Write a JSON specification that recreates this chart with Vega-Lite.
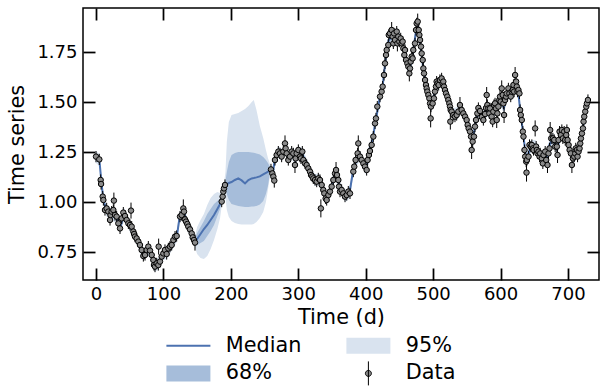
{
  "$schema": "https://vega.github.io/schema/vega-lite/v6.json",
  "autosize": {"type": "none"},
  "width": 516,
  "height": 272,
  "padding": {"left": 83, "top": 8, "right": 1, "bottom": 108},
  "background": "white",
  "config": {
    "font": "DejaVu Sans",
    "view": {"stroke": "black", "strokeWidth": 1.5},
    "axis": {"grid": false, "domain": false, "tickColor": "black", "tickWidth": 1.75, "tickSize": -12, "labelColor": "black", "labelFont": "DejaVu Sans", "labelFontSize": 18, "titleFont": "DejaVu Sans", "titleFontSize": 20.8, "titleFontWeight": "normal", "titleColor": "black"},
    "legend": {
      "orient": "none", "legendX": 95, "legendY": 327, "columns": 2, "columnPadding": 42, "rowPadding": 3,
      "title": null, "padding": 0, "symbolSize": 256, "labelOffset": 27, "symbolOpacity": 1, "symbolStrokeWidth": 1,
      "labelFont": "DejaVu Sans", "labelFontSize": 20.8, "labelColor": "black"
    }
  },
  "datasets": {
    "keys": [{"k": "Median"}, {"k": "68%"}, {"k": "95%"}, {"k": "Data"}],
    "model": [
      {"t": -1, "med": 1.228, "lo68": 1.213, "hi68": 1.243, "lo95": 1.198, "hi95": 1.258},
      {"t": 5, "med": 1.21, "lo68": 1.195, "hi68": 1.225, "lo95": 1.18, "hi95": 1.24},
      {"t": 8, "med": 1.1, "lo68": 1.085, "hi68": 1.115, "lo95": 1.07, "hi95": 1.13},
      {"t": 11, "med": 1.01, "lo68": 0.995, "hi68": 1.025, "lo95": 0.98, "hi95": 1.04},
      {"t": 15, "med": 0.96, "lo68": 0.945, "hi68": 0.975, "lo95": 0.93, "hi95": 0.99},
      {"t": 22, "med": 0.94, "lo68": 0.925, "hi68": 0.955, "lo95": 0.91, "hi95": 0.97},
      {"t": 30, "med": 0.925, "lo68": 0.91, "hi68": 0.94, "lo95": 0.895, "hi95": 0.955},
      {"t": 36, "med": 0.875, "lo68": 0.86, "hi68": 0.89, "lo95": 0.845, "hi95": 0.905},
      {"t": 42, "med": 0.94, "lo68": 0.925, "hi68": 0.955, "lo95": 0.91, "hi95": 0.97},
      {"t": 48, "med": 0.895, "lo68": 0.88, "hi68": 0.91, "lo95": 0.865, "hi95": 0.925},
      {"t": 55, "med": 0.85, "lo68": 0.835, "hi68": 0.865, "lo95": 0.82, "hi95": 0.88},
      {"t": 62, "med": 0.805, "lo68": 0.79, "hi68": 0.82, "lo95": 0.775, "hi95": 0.835},
      {"t": 70, "med": 0.735, "lo68": 0.72, "hi68": 0.75, "lo95": 0.705, "hi95": 0.765},
      {"t": 76, "med": 0.76, "lo68": 0.745, "hi68": 0.775, "lo95": 0.73, "hi95": 0.79},
      {"t": 80, "med": 0.755, "lo68": 0.74, "hi68": 0.77, "lo95": 0.725, "hi95": 0.785},
      {"t": 87, "med": 0.68, "lo68": 0.665, "hi68": 0.695, "lo95": 0.65, "hi95": 0.71},
      {"t": 92, "med": 0.69, "lo68": 0.675, "hi68": 0.705, "lo95": 0.66, "hi95": 0.72},
      {"t": 100, "med": 0.74, "lo68": 0.725, "hi68": 0.755, "lo95": 0.71, "hi95": 0.77},
      {"t": 105, "med": 0.745, "lo68": 0.73, "hi68": 0.76, "lo95": 0.715, "hi95": 0.775},
      {"t": 112, "med": 0.785, "lo68": 0.77, "hi68": 0.8, "lo95": 0.755, "hi95": 0.815},
      {"t": 120, "med": 0.83, "lo68": 0.815, "hi68": 0.845, "lo95": 0.8, "hi95": 0.86},
      {"t": 124, "med": 0.925, "lo68": 0.91, "hi68": 0.94, "lo95": 0.895, "hi95": 0.955},
      {"t": 130, "med": 0.95, "lo68": 0.935, "hi68": 0.965, "lo95": 0.92, "hi95": 0.98},
      {"t": 137, "med": 0.875, "lo68": 0.86, "hi68": 0.89, "lo95": 0.845, "hi95": 0.905},
      {"t": 146, "med": 0.8, "lo68": 0.79, "hi68": 0.81, "lo95": 0.78, "hi95": 0.82},
      {"t": 150, "med": 0.815, "lo68": 0.785, "hi68": 0.845, "lo95": 0.74, "hi95": 0.875},
      {"t": 155, "med": 0.84, "lo68": 0.795, "hi68": 0.875, "lo95": 0.72, "hi95": 0.91},
      {"t": 160, "med": 0.865, "lo68": 0.805, "hi68": 0.905, "lo95": 0.715, "hi95": 0.94},
      {"t": 165, "med": 0.885, "lo68": 0.83, "hi68": 0.94, "lo95": 0.73, "hi95": 0.985},
      {"t": 170, "med": 0.91, "lo68": 0.855, "hi68": 0.965, "lo95": 0.765, "hi95": 1.02},
      {"t": 175, "med": 0.935, "lo68": 0.885, "hi68": 0.99, "lo95": 0.81, "hi95": 1.04},
      {"t": 180, "med": 0.965, "lo68": 0.93, "hi68": 1.005, "lo95": 0.865, "hi95": 1.05},
      {"t": 184, "med": 0.99, "lo68": 0.965, "hi68": 1.015, "lo95": 0.92, "hi95": 1.045},
      {"t": 187, "med": 1.025, "lo68": 1.01, "hi68": 1.04, "lo95": 0.995, "hi95": 1.055},
      {"t": 190, "med": 1.07, "lo68": 1.055, "hi68": 1.085, "lo95": 1.04, "hi95": 1.1},
      {"t": 192, "med": 1.085, "lo68": 1.065, "hi68": 1.105, "lo95": 1.02, "hi95": 1.15},
      {"t": 194, "med": 1.09, "lo68": 1.04, "hi68": 1.15, "lo95": 0.96, "hi95": 1.3},
      {"t": 197, "med": 1.095, "lo68": 1.01, "hi68": 1.2, "lo95": 0.925, "hi95": 1.4},
      {"t": 201, "med": 1.1, "lo68": 0.99, "hi68": 1.235, "lo95": 0.905, "hi95": 1.435},
      {"t": 206, "med": 1.11, "lo68": 0.985, "hi68": 1.245, "lo95": 0.895, "hi95": 1.44},
      {"t": 211, "med": 1.118, "lo68": 0.98, "hi68": 1.25, "lo95": 0.89, "hi95": 1.445},
      {"t": 216, "med": 1.108, "lo68": 0.978, "hi68": 1.25, "lo95": 0.888, "hi95": 1.455},
      {"t": 221, "med": 1.093, "lo68": 0.975, "hi68": 1.25, "lo95": 0.887, "hi95": 1.465},
      {"t": 226, "med": 1.11, "lo68": 0.975, "hi68": 1.25, "lo95": 0.887, "hi95": 1.48},
      {"t": 231, "med": 1.118, "lo68": 0.977, "hi68": 1.248, "lo95": 0.888, "hi95": 1.5},
      {"t": 234, "med": 1.12, "lo68": 0.978, "hi68": 1.246, "lo95": 0.89, "hi95": 1.51},
      {"t": 238, "med": 1.123, "lo68": 0.98, "hi68": 1.243, "lo95": 0.9, "hi95": 1.46},
      {"t": 243, "med": 1.128, "lo68": 0.988, "hi68": 1.238, "lo95": 0.92, "hi95": 1.38},
      {"t": 248, "med": 1.138, "lo68": 1.005, "hi68": 1.225, "lo95": 0.95, "hi95": 1.32},
      {"t": 252, "med": 1.145, "lo68": 1.04, "hi68": 1.21, "lo95": 1.0, "hi95": 1.26},
      {"t": 255, "med": 1.152, "lo68": 1.08, "hi68": 1.195, "lo95": 1.06, "hi95": 1.22},
      {"t": 258, "med": 1.16, "lo68": 1.145, "hi68": 1.175, "lo95": 1.13, "hi95": 1.19},
      {"t": 262, "med": 1.135, "lo68": 1.12, "hi68": 1.15, "lo95": 1.105, "hi95": 1.165},
      {"t": 265, "med": 1.21, "lo68": 1.195, "hi68": 1.225, "lo95": 1.18, "hi95": 1.24},
      {"t": 270, "med": 1.25, "lo68": 1.235, "hi68": 1.265, "lo95": 1.22, "hi95": 1.28},
      {"t": 276, "med": 1.235, "lo68": 1.22, "hi68": 1.25, "lo95": 1.205, "hi95": 1.265},
      {"t": 281, "med": 1.265, "lo68": 1.25, "hi68": 1.28, "lo95": 1.235, "hi95": 1.295},
      {"t": 285, "med": 1.215, "lo68": 1.2, "hi68": 1.23, "lo95": 1.185, "hi95": 1.245},
      {"t": 290, "med": 1.245, "lo68": 1.23, "hi68": 1.26, "lo95": 1.215, "hi95": 1.275},
      {"t": 296, "med": 1.21, "lo68": 1.195, "hi68": 1.225, "lo95": 1.18, "hi95": 1.24},
      {"t": 300, "med": 1.25, "lo68": 1.235, "hi68": 1.265, "lo95": 1.22, "hi95": 1.28},
      {"t": 306, "med": 1.24, "lo68": 1.225, "hi68": 1.255, "lo95": 1.21, "hi95": 1.27},
      {"t": 312, "med": 1.19, "lo68": 1.175, "hi68": 1.205, "lo95": 1.16, "hi95": 1.22},
      {"t": 318, "med": 1.145, "lo68": 1.13, "hi68": 1.16, "lo95": 1.115, "hi95": 1.175},
      {"t": 325, "med": 1.11, "lo68": 1.095, "hi68": 1.125, "lo95": 1.08, "hi95": 1.14},
      {"t": 331, "med": 1.112, "lo68": 1.097, "hi68": 1.127, "lo95": 1.082, "hi95": 1.142},
      {"t": 337, "med": 1.06, "lo68": 1.045, "hi68": 1.075, "lo95": 1.03, "hi95": 1.09},
      {"t": 342, "med": 1.015, "lo68": 1.0, "hi68": 1.03, "lo95": 0.985, "hi95": 1.045},
      {"t": 347, "med": 1.05, "lo68": 1.035, "hi68": 1.065, "lo95": 1.02, "hi95": 1.08},
      {"t": 352, "med": 1.11, "lo68": 1.095, "hi68": 1.125, "lo95": 1.08, "hi95": 1.14},
      {"t": 356, "med": 1.155, "lo68": 1.14, "hi68": 1.17, "lo95": 1.125, "hi95": 1.185},
      {"t": 360, "med": 1.09, "lo68": 1.075, "hi68": 1.105, "lo95": 1.06, "hi95": 1.12},
      {"t": 365, "med": 1.05, "lo68": 1.035, "hi68": 1.065, "lo95": 1.02, "hi95": 1.08},
      {"t": 370, "med": 1.03, "lo68": 1.015, "hi68": 1.045, "lo95": 1.0, "hi95": 1.06},
      {"t": 376, "med": 1.045, "lo68": 1.03, "hi68": 1.06, "lo95": 1.015, "hi95": 1.075},
      {"t": 381, "med": 1.15, "lo68": 1.135, "hi68": 1.165, "lo95": 1.12, "hi95": 1.18},
      {"t": 386, "med": 1.21, "lo68": 1.195, "hi68": 1.225, "lo95": 1.18, "hi95": 1.24},
      {"t": 391, "med": 1.23, "lo68": 1.215, "hi68": 1.245, "lo95": 1.2, "hi95": 1.26},
      {"t": 397, "med": 1.19, "lo68": 1.175, "hi68": 1.205, "lo95": 1.16, "hi95": 1.22},
      {"t": 401, "med": 1.16, "lo68": 1.145, "hi68": 1.175, "lo95": 1.13, "hi95": 1.19},
      {"t": 405, "med": 1.26, "lo68": 1.245, "hi68": 1.275, "lo95": 1.23, "hi95": 1.29},
      {"t": 410, "med": 1.31, "lo68": 1.295, "hi68": 1.325, "lo95": 1.28, "hi95": 1.34},
      {"t": 415, "med": 1.41, "lo68": 1.395, "hi68": 1.425, "lo95": 1.38, "hi95": 1.44},
      {"t": 420, "med": 1.505, "lo68": 1.49, "hi68": 1.52, "lo95": 1.475, "hi95": 1.535},
      {"t": 425, "med": 1.575, "lo68": 1.56, "hi68": 1.59, "lo95": 1.545, "hi95": 1.605},
      {"t": 430, "med": 1.73, "lo68": 1.715, "hi68": 1.745, "lo95": 1.7, "hi95": 1.76},
      {"t": 434, "med": 1.81, "lo68": 1.795, "hi68": 1.825, "lo95": 1.78, "hi95": 1.84},
      {"t": 440, "med": 1.83, "lo68": 1.815, "hi68": 1.845, "lo95": 1.8, "hi95": 1.86},
      {"t": 446, "med": 1.84, "lo68": 1.825, "hi68": 1.855, "lo95": 1.81, "hi95": 1.87},
      {"t": 452, "med": 1.81, "lo68": 1.795, "hi68": 1.825, "lo95": 1.78, "hi95": 1.84},
      {"t": 458, "med": 1.75, "lo68": 1.735, "hi68": 1.765, "lo95": 1.72, "hi95": 1.78},
      {"t": 464, "med": 1.655, "lo68": 1.64, "hi68": 1.67, "lo95": 1.625, "hi95": 1.685},
      {"t": 469, "med": 1.72, "lo68": 1.705, "hi68": 1.735, "lo95": 1.69, "hi95": 1.75},
      {"t": 474, "med": 1.84, "lo68": 1.825, "hi68": 1.855, "lo95": 1.81, "hi95": 1.87},
      {"t": 477, "med": 1.895, "lo68": 1.88, "hi68": 1.91, "lo95": 1.865, "hi95": 1.925},
      {"t": 481, "med": 1.79, "lo68": 1.775, "hi68": 1.805, "lo95": 1.76, "hi95": 1.82},
      {"t": 486, "med": 1.65, "lo68": 1.635, "hi68": 1.665, "lo95": 1.62, "hi95": 1.68},
      {"t": 492, "med": 1.545, "lo68": 1.53, "hi68": 1.56, "lo95": 1.515, "hi95": 1.575},
      {"t": 497, "med": 1.48, "lo68": 1.465, "hi68": 1.495, "lo95": 1.45, "hi95": 1.51},
      {"t": 502, "med": 1.54, "lo68": 1.525, "hi68": 1.555, "lo95": 1.51, "hi95": 1.57},
      {"t": 507, "med": 1.59, "lo68": 1.575, "hi68": 1.605, "lo95": 1.56, "hi95": 1.62},
      {"t": 513, "med": 1.61, "lo68": 1.595, "hi68": 1.625, "lo95": 1.58, "hi95": 1.64},
      {"t": 518, "med": 1.555, "lo68": 1.54, "hi68": 1.57, "lo95": 1.525, "hi95": 1.585},
      {"t": 524, "med": 1.49, "lo68": 1.475, "hi68": 1.505, "lo95": 1.46, "hi95": 1.52},
      {"t": 530, "med": 1.44, "lo68": 1.425, "hi68": 1.455, "lo95": 1.41, "hi95": 1.47},
      {"t": 536, "med": 1.445, "lo68": 1.43, "hi68": 1.46, "lo95": 1.415, "hi95": 1.475},
      {"t": 541, "med": 1.47, "lo68": 1.455, "hi68": 1.485, "lo95": 1.44, "hi95": 1.5},
      {"t": 548, "med": 1.42, "lo68": 1.405, "hi68": 1.435, "lo95": 1.39, "hi95": 1.45},
      {"t": 554, "med": 1.355, "lo68": 1.34, "hi68": 1.37, "lo95": 1.325, "hi95": 1.385},
      {"t": 559, "med": 1.3, "lo68": 1.285, "hi68": 1.315, "lo95": 1.27, "hi95": 1.33},
      {"t": 563, "med": 1.41, "lo68": 1.395, "hi68": 1.425, "lo95": 1.38, "hi95": 1.44},
      {"t": 568, "med": 1.45, "lo68": 1.435, "hi68": 1.465, "lo95": 1.42, "hi95": 1.48},
      {"t": 573, "med": 1.42, "lo68": 1.405, "hi68": 1.435, "lo95": 1.39, "hi95": 1.45},
      {"t": 578, "med": 1.45, "lo68": 1.435, "hi68": 1.465, "lo95": 1.42, "hi95": 1.48},
      {"t": 583, "med": 1.46, "lo68": 1.445, "hi68": 1.475, "lo95": 1.43, "hi95": 1.49},
      {"t": 588, "med": 1.42, "lo68": 1.405, "hi68": 1.435, "lo95": 1.39, "hi95": 1.45},
      {"t": 593, "med": 1.48, "lo68": 1.465, "hi68": 1.495, "lo95": 1.45, "hi95": 1.51},
      {"t": 599, "med": 1.52, "lo68": 1.505, "hi68": 1.535, "lo95": 1.49, "hi95": 1.55},
      {"t": 605, "med": 1.47, "lo68": 1.455, "hi68": 1.485, "lo95": 1.44, "hi95": 1.5},
      {"t": 610, "med": 1.545, "lo68": 1.53, "hi68": 1.56, "lo95": 1.515, "hi95": 1.575},
      {"t": 616, "med": 1.54, "lo68": 1.525, "hi68": 1.555, "lo95": 1.51, "hi95": 1.57},
      {"t": 621, "med": 1.6, "lo68": 1.585, "hi68": 1.615, "lo95": 1.57, "hi95": 1.63},
      {"t": 626, "med": 1.56, "lo68": 1.545, "hi68": 1.575, "lo95": 1.53, "hi95": 1.59},
      {"t": 629, "med": 1.46, "lo68": 1.445, "hi68": 1.475, "lo95": 1.43, "hi95": 1.49},
      {"t": 634, "med": 1.33, "lo68": 1.315, "hi68": 1.345, "lo95": 1.3, "hi95": 1.36},
      {"t": 638, "med": 1.21, "lo68": 1.195, "hi68": 1.225, "lo95": 1.18, "hi95": 1.24},
      {"t": 642, "med": 1.25, "lo68": 1.235, "hi68": 1.265, "lo95": 1.22, "hi95": 1.28},
      {"t": 646, "med": 1.28, "lo68": 1.265, "hi68": 1.295, "lo95": 1.25, "hi95": 1.31},
      {"t": 652, "med": 1.28, "lo68": 1.265, "hi68": 1.295, "lo95": 1.25, "hi95": 1.31},
      {"t": 658, "med": 1.235, "lo68": 1.22, "hi68": 1.25, "lo95": 1.205, "hi95": 1.265},
      {"t": 663, "med": 1.215, "lo68": 1.2, "hi68": 1.23, "lo95": 1.185, "hi95": 1.245},
      {"t": 668, "med": 1.22, "lo68": 1.205, "hi68": 1.235, "lo95": 1.19, "hi95": 1.25},
      {"t": 673, "med": 1.29, "lo68": 1.275, "hi68": 1.305, "lo95": 1.26, "hi95": 1.32},
      {"t": 678, "med": 1.315, "lo68": 1.3, "hi68": 1.33, "lo95": 1.285, "hi95": 1.345},
      {"t": 684, "med": 1.265, "lo68": 1.25, "hi68": 1.28, "lo95": 1.235, "hi95": 1.295},
      {"t": 689, "med": 1.34, "lo68": 1.325, "hi68": 1.355, "lo95": 1.31, "hi95": 1.37},
      {"t": 694, "med": 1.34, "lo68": 1.325, "hi68": 1.355, "lo95": 1.31, "hi95": 1.37},
      {"t": 699, "med": 1.34, "lo68": 1.325, "hi68": 1.355, "lo95": 1.31, "hi95": 1.37},
      {"t": 703, "med": 1.25, "lo68": 1.235, "hi68": 1.265, "lo95": 1.22, "hi95": 1.28},
      {"t": 708, "med": 1.22, "lo68": 1.205, "hi68": 1.235, "lo95": 1.19, "hi95": 1.25},
      {"t": 713, "med": 1.25, "lo68": 1.235, "hi68": 1.265, "lo95": 1.22, "hi95": 1.28},
      {"t": 718, "med": 1.29, "lo68": 1.275, "hi68": 1.305, "lo95": 1.26, "hi95": 1.32},
      {"t": 722, "med": 1.37, "lo68": 1.355, "hi68": 1.385, "lo95": 1.34, "hi95": 1.4},
      {"t": 726, "med": 1.46, "lo68": 1.445, "hi68": 1.475, "lo95": 1.43, "hi95": 1.49},
      {"t": 730, "med": 1.51, "lo68": 1.495, "hi68": 1.525, "lo95": 1.48, "hi95": 1.54}
    ],
    "obs": [
      {"t": 0, "y": 1.227, "e": 0.028}, {"t": 4.9, "y": 1.213, "e": 0.028}, {"t": 6.9, "y": 1.11, "e": 0.028}, {"t": 7.5, "y": 1.09, "e": 0.028},
      {"t": 9.9, "y": 1.027, "e": 0.028}, {"t": 10.9, "y": 1.01, "e": 0.028}, {"t": 13.3, "y": 0.96, "e": 0.028}, {"t": 15.8, "y": 0.968, "e": 0.028},
      {"t": 18.3, "y": 0.952, "e": 0.028}, {"t": 20.8, "y": 0.91, "e": 0.028}, {"t": 21.5, "y": 0.935, "e": 0.028}, {"t": 23.2, "y": 0.952, "e": 0.028},
      {"t": 25.7, "y": 0.96, "e": 0.028}, {"t": 26.5, "y": 1.007, "e": 0.04}, {"t": 28.2, "y": 0.935, "e": 0.028}, {"t": 30.6, "y": 0.927, "e": 0.028},
      {"t": 33.1, "y": 0.893, "e": 0.028}, {"t": 35.6, "y": 0.868, "e": 0.028}, {"t": 38.1, "y": 0.918, "e": 0.028}, {"t": 40.5, "y": 0.947, "e": 0.028},
      {"t": 43, "y": 0.93, "e": 0.028}, {"t": 45.5, "y": 0.91, "e": 0.028}, {"t": 48, "y": 0.893, "e": 0.028}, {"t": 50.4, "y": 0.885, "e": 0.028},
      {"t": 51.9, "y": 0.957, "e": 0.04}, {"t": 52.9, "y": 0.877, "e": 0.028}, {"t": 55.4, "y": 0.852, "e": 0.028}, {"t": 56.5, "y": 0.84, "e": 0.028},
      {"t": 57.8, "y": 0.827, "e": 0.028}, {"t": 60.3, "y": 0.818, "e": 0.028}, {"t": 62.8, "y": 0.802, "e": 0.028}, {"t": 65.2, "y": 0.785, "e": 0.028},
      {"t": 67.7, "y": 0.76, "e": 0.028}, {"t": 70.2, "y": 0.73, "e": 0.028}, {"t": 72.7, "y": 0.735, "e": 0.028}, {"t": 75.1, "y": 0.76, "e": 0.028},
      {"t": 77.6, "y": 0.777, "e": 0.028}, {"t": 80.1, "y": 0.757, "e": 0.028}, {"t": 82.6, "y": 0.735, "e": 0.028}, {"t": 85, "y": 0.71, "e": 0.028},
      {"t": 86, "y": 0.685, "e": 0.028}, {"t": 87.5, "y": 0.677, "e": 0.028}, {"t": 90, "y": 0.693, "e": 0.028}, {"t": 92.4, "y": 0.685, "e": 0.028},
      {"t": 92.9, "y": 0.777, "e": 0.04}, {"t": 94.9, "y": 0.702, "e": 0.028}, {"t": 97.4, "y": 0.727, "e": 0.028}, {"t": 99.9, "y": 0.743, "e": 0.028},
      {"t": 102.3, "y": 0.76, "e": 0.028}, {"t": 104.8, "y": 0.74, "e": 0.028}, {"t": 107.3, "y": 0.768, "e": 0.028}, {"t": 109.7, "y": 0.777, "e": 0.028},
      {"t": 112.2, "y": 0.785, "e": 0.028}, {"t": 114.7, "y": 0.81, "e": 0.028}, {"t": 117.2, "y": 0.827, "e": 0.028}, {"t": 119.6, "y": 0.83, "e": 0.028},
      {"t": 124.6, "y": 0.927, "e": 0.028}, {"t": 127, "y": 0.935, "e": 0.028}, {"t": 129.5, "y": 0.968, "e": 0.045}, {"t": 130.5, "y": 0.952, "e": 0.028},
      {"t": 132, "y": 0.913, "e": 0.028}, {"t": 133.5, "y": 0.902, "e": 0.028}, {"t": 135.4, "y": 0.89, "e": 0.028}, {"t": 136.9, "y": 0.877, "e": 0.028},
      {"t": 139.4, "y": 0.863, "e": 0.028}, {"t": 141.9, "y": 0.843, "e": 0.028}, {"t": 143.4, "y": 0.823, "e": 0.028}, {"t": 145.3, "y": 0.81, "e": 0.028},
      {"t": 146.8, "y": 0.797, "e": 0.04},
      {"t": 186.4, "y": 1.002, "e": 0.028}, {"t": 187.8, "y": 1.027, "e": 0.028}, {"t": 188.8, "y": 1.052, "e": 0.028}, {"t": 189.8, "y": 1.068, "e": 0.028},
      {"t": 191.3, "y": 1.085, "e": 0.028},
      {"t": 259.5, "y": 1.163, "e": 0.028}, {"t": 261.5, "y": 1.143, "e": 0.028}, {"t": 263, "y": 1.127, "e": 0.028}, {"t": 264.4, "y": 1.107, "e": 0.035},
      {"t": 265.4, "y": 1.21, "e": 0.028}, {"t": 267.9, "y": 1.235, "e": 0.028}, {"t": 270.4, "y": 1.252, "e": 0.028}, {"t": 272.9, "y": 1.243, "e": 0.028},
      {"t": 275.3, "y": 1.227, "e": 0.028}, {"t": 277.8, "y": 1.252, "e": 0.028}, {"t": 280.3, "y": 1.293, "e": 0.04}, {"t": 281.3, "y": 1.268, "e": 0.028},
      {"t": 282.8, "y": 1.243, "e": 0.028}, {"t": 285.2, "y": 1.21, "e": 0.028}, {"t": 287.7, "y": 1.227, "e": 0.028}, {"t": 290.2, "y": 1.252, "e": 0.028},
      {"t": 292.7, "y": 1.243, "e": 0.028}, {"t": 295.1, "y": 1.185, "e": 0.04}, {"t": 296.1, "y": 1.218, "e": 0.028}, {"t": 297.6, "y": 1.243, "e": 0.028},
      {"t": 300.1, "y": 1.26, "e": 0.028}, {"t": 302.5, "y": 1.227, "e": 0.028}, {"t": 304, "y": 1.218, "e": 0.028}, {"t": 306, "y": 1.252, "e": 0.028},
      {"t": 307.5, "y": 1.21, "e": 0.028}, {"t": 310, "y": 1.193, "e": 0.028}, {"t": 312.4, "y": 1.185, "e": 0.028}, {"t": 314.9, "y": 1.168, "e": 0.028},
      {"t": 317.4, "y": 1.152, "e": 0.028}, {"t": 318.9, "y": 1.135, "e": 0.028}, {"t": 320.8, "y": 1.127, "e": 0.028}, {"t": 322.3, "y": 1.118, "e": 0.028},
      {"t": 324.8, "y": 1.11, "e": 0.028}, {"t": 327.3, "y": 1.102, "e": 0.028}, {"t": 329.7, "y": 1.118, "e": 0.028}, {"t": 332.2, "y": 1.11, "e": 0.028},
      {"t": 333.5, "y": 0.968, "e": 0.045}, {"t": 334.7, "y": 1.085, "e": 0.028}, {"t": 337.1, "y": 1.06, "e": 0.028}, {"t": 338.6, "y": 1.043, "e": 0.028},
      {"t": 340.6, "y": 1.018, "e": 0.028}, {"t": 342.1, "y": 1.01, "e": 0.028}, {"t": 344.6, "y": 1.035, "e": 0.028}, {"t": 347, "y": 1.052, "e": 0.028},
      {"t": 349.5, "y": 1.077, "e": 0.028}, {"t": 352, "y": 1.11, "e": 0.028}, {"t": 354.5, "y": 1.143, "e": 0.028}, {"t": 356, "y": 1.16, "e": 0.04},
      {"t": 357.4, "y": 1.135, "e": 0.028}, {"t": 359.4, "y": 1.11, "e": 0.028}, {"t": 360.4, "y": 1.077, "e": 0.028}, {"t": 361.9, "y": 1.052, "e": 0.028},
      {"t": 364.3, "y": 1.06, "e": 0.028}, {"t": 366.8, "y": 1.043, "e": 0.028}, {"t": 369.3, "y": 1.027, "e": 0.028}, {"t": 371.8, "y": 1.035, "e": 0.028},
      {"t": 374.2, "y": 1.052, "e": 0.028}, {"t": 376.7, "y": 1.043, "e": 0.028}, {"t": 381.6, "y": 1.152, "e": 0.028}, {"t": 383, "y": 1.177, "e": 0.028},
      {"t": 385, "y": 1.21, "e": 0.028}, {"t": 388, "y": 1.243, "e": 0.028}, {"t": 389, "y": 1.293, "e": 0.04}, {"t": 391.5, "y": 1.227, "e": 0.028},
      {"t": 394, "y": 1.21, "e": 0.028}, {"t": 396.5, "y": 1.193, "e": 0.028}, {"t": 398.9, "y": 1.177, "e": 0.028}, {"t": 401.4, "y": 1.16, "e": 0.028},
      {"t": 402.8, "y": 1.21, "e": 0.028}, {"t": 404.8, "y": 1.235, "e": 0.028},
      {"t": 406.3, "y": 1.255, "e": 0.028}, {"t": 408.8, "y": 1.285, "e": 0.028}, {"t": 411.3, "y": 1.327, "e": 0.028}, {"t": 413.8, "y": 1.393, "e": 0.028},
      {"t": 415.2, "y": 1.418, "e": 0.028}, {"t": 417.2, "y": 1.477, "e": 0.028}, {"t": 421.2, "y": 1.527, "e": 0.028}, {"t": 423.6, "y": 1.552, "e": 0.028},
      {"t": 425.1, "y": 1.577, "e": 0.028}, {"t": 427.1, "y": 1.635, "e": 0.028}, {"t": 428.6, "y": 1.693, "e": 0.028}, {"t": 430.1, "y": 1.735, "e": 0.028},
      {"t": 431.1, "y": 1.76, "e": 0.028}, {"t": 433.5, "y": 1.785, "e": 0.028}, {"t": 434.2, "y": 1.835, "e": 0.028}, {"t": 436, "y": 1.843, "e": 0.028},
      {"t": 438.5, "y": 1.86, "e": 0.04}, {"t": 440, "y": 1.827, "e": 0.028}, {"t": 441, "y": 1.793, "e": 0.028}, {"t": 442, "y": 1.843, "e": 0.028},
      {"t": 443.4, "y": 1.81, "e": 0.028}, {"t": 446, "y": 1.852, "e": 0.028}, {"t": 447, "y": 1.793, "e": 0.04}, {"t": 448.4, "y": 1.827, "e": 0.028},
      {"t": 449.9, "y": 1.802, "e": 0.028}, {"t": 451.9, "y": 1.818, "e": 0.028}, {"t": 453.3, "y": 1.793, "e": 0.028}, {"t": 454.8, "y": 1.802, "e": 0.028},
      {"t": 455.8, "y": 1.768, "e": 0.028}, {"t": 457.3, "y": 1.735, "e": 0.028}, {"t": 458.3, "y": 1.76, "e": 0.028}, {"t": 459.8, "y": 1.71, "e": 0.028},
      {"t": 461.8, "y": 1.693, "e": 0.028}, {"t": 463.2, "y": 1.677, "e": 0.028}, {"t": 464.7, "y": 1.643, "e": 0.04}, {"t": 465.7, "y": 1.668, "e": 0.028},
      {"t": 466.7, "y": 1.702, "e": 0.028}, {"t": 468.2, "y": 1.727, "e": 0.028}, {"t": 469.6, "y": 1.718, "e": 0.028}, {"t": 470.6, "y": 1.76, "e": 0.028},
      {"t": 473.1, "y": 1.793, "e": 0.028}, {"t": 474.6, "y": 1.86, "e": 0.028}, {"t": 475.6, "y": 1.893, "e": 0.028}, {"t": 477.1, "y": 1.902, "e": 0.04},
      {"t": 478.6, "y": 1.86, "e": 0.028}, {"t": 479.6, "y": 1.835, "e": 0.028}, {"t": 480.6, "y": 1.81, "e": 0.028}, {"t": 482, "y": 1.777, "e": 0.028},
      {"t": 483, "y": 1.743, "e": 0.028}, {"t": 484.5, "y": 1.71, "e": 0.028}, {"t": 485.5, "y": 1.668, "e": 0.028}, {"t": 486.5, "y": 1.643, "e": 0.028},
      {"t": 488, "y": 1.61, "e": 0.028}, {"t": 489.4, "y": 1.585, "e": 0.028}, {"t": 490.4, "y": 1.568, "e": 0.028}, {"t": 491.4, "y": 1.552, "e": 0.028},
      {"t": 492.9, "y": 1.535, "e": 0.028}, {"t": 494.4, "y": 1.518, "e": 0.028}, {"t": 495.4, "y": 1.493, "e": 0.028}, {"t": 496.3, "y": 1.418, "e": 0.045},
      {"t": 496.8, "y": 1.477, "e": 0.028}, {"t": 499.3, "y": 1.493, "e": 0.028}, {"t": 501.2, "y": 1.518, "e": 0.028}, {"t": 502.7, "y": 1.552, "e": 0.028},
      {"t": 504.2, "y": 1.577, "e": 0.028}, {"t": 505.2, "y": 1.602, "e": 0.028}, {"t": 506.7, "y": 1.593, "e": 0.028}, {"t": 508.2, "y": 1.585, "e": 0.028},
      {"t": 510.1, "y": 1.61, "e": 0.028}, {"t": 512.6, "y": 1.618, "e": 0.028}, {"t": 514.1, "y": 1.593, "e": 0.028}, {"t": 515.1, "y": 1.602, "e": 0.028},
      {"t": 516.1, "y": 1.577, "e": 0.028}, {"t": 517.6, "y": 1.56, "e": 0.028}, {"t": 519.1, "y": 1.543, "e": 0.028}, {"t": 521, "y": 1.527, "e": 0.028},
      {"t": 522.5, "y": 1.51, "e": 0.028}, {"t": 524, "y": 1.493, "e": 0.028}, {"t": 525, "y": 1.477, "e": 0.028}, {"t": 525.5, "y": 1.402, "e": 0.04},
      {"t": 526, "y": 1.46, "e": 0.028}, {"t": 527.5, "y": 1.452, "e": 0.028}, {"t": 529.9, "y": 1.435, "e": 0.028}, {"t": 532.4, "y": 1.427, "e": 0.028},
      {"t": 534.9, "y": 1.435, "e": 0.028}, {"t": 537.4, "y": 1.452, "e": 0.028}, {"t": 539.8, "y": 1.485, "e": 0.04}, {"t": 542.3, "y": 1.46, "e": 0.028},
      {"t": 544.8, "y": 1.443, "e": 0.028}, {"t": 547.3, "y": 1.427, "e": 0.028}, {"t": 549.7, "y": 1.41, "e": 0.028}, {"t": 551.2, "y": 1.385, "e": 0.028},
      {"t": 552.7, "y": 1.368, "e": 0.028}, {"t": 554.7, "y": 1.352, "e": 0.028}, {"t": 556.2, "y": 1.327, "e": 0.028}, {"t": 557.1, "y": 1.26, "e": 0.045},
      {"t": 558.6, "y": 1.302, "e": 0.028}, {"t": 560.6, "y": 1.327, "e": 0.028}, {"t": 562.1, "y": 1.377, "e": 0.028}, {"t": 563.6, "y": 1.41, "e": 0.028},
      {"t": 565.6, "y": 1.443, "e": 0.028}, {"t": 567.1, "y": 1.47, "e": 0.028}, {"t": 569.6, "y": 1.455, "e": 0.028}, {"t": 572.1, "y": 1.425, "e": 0.028},
      {"t": 574.5, "y": 1.41, "e": 0.028}, {"t": 577, "y": 1.44, "e": 0.028}, {"t": 578.4, "y": 1.47, "e": 0.028}, {"t": 579.4, "y": 1.535, "e": 0.04},
      {"t": 580.4, "y": 1.485, "e": 0.028}, {"t": 581.9, "y": 1.468, "e": 0.028},
      {"t": 583.4, "y": 1.443, "e": 0.028}, {"t": 584.4, "y": 1.468, "e": 0.028}, {"t": 586.8, "y": 1.427, "e": 0.028}, {"t": 588.3, "y": 1.402, "e": 0.028},
      {"t": 589.3, "y": 1.452, "e": 0.028}, {"t": 590.3, "y": 1.485, "e": 0.028}, {"t": 591.8, "y": 1.493, "e": 0.028}, {"t": 593.3, "y": 1.468, "e": 0.028},
      {"t": 594.3, "y": 1.41, "e": 0.04}, {"t": 595.3, "y": 1.443, "e": 0.028}, {"t": 596.8, "y": 1.477, "e": 0.028}, {"t": 598.2, "y": 1.51, "e": 0.028},
      {"t": 599.2, "y": 1.527, "e": 0.028}, {"t": 600.2, "y": 1.502, "e": 0.028}, {"t": 601.7, "y": 1.568, "e": 0.04}, {"t": 603.2, "y": 1.535, "e": 0.028},
      {"t": 604.2, "y": 1.493, "e": 0.028}, {"t": 605.2, "y": 1.435, "e": 0.04}, {"t": 606.7, "y": 1.51, "e": 0.028}, {"t": 608.2, "y": 1.527, "e": 0.028},
      {"t": 609.1, "y": 1.543, "e": 0.028}, {"t": 611.6, "y": 1.568, "e": 0.028}, {"t": 613.1, "y": 1.543, "e": 0.028}, {"t": 615.1, "y": 1.527, "e": 0.028},
      {"t": 616.6, "y": 1.552, "e": 0.028}, {"t": 618.1, "y": 1.56, "e": 0.028}, {"t": 619.1, "y": 1.585, "e": 0.028}, {"t": 620.1, "y": 1.552, "e": 0.028},
      {"t": 621.6, "y": 1.635, "e": 0.04}, {"t": 623.1, "y": 1.602, "e": 0.028}, {"t": 624.1, "y": 1.577, "e": 0.028}, {"t": 625.1, "y": 1.552, "e": 0.028},
      {"t": 626.5, "y": 1.56, "e": 0.028}, {"t": 628, "y": 1.543, "e": 0.028}, {"t": 629, "y": 1.46, "e": 0.028}, {"t": 630, "y": 1.435, "e": 0.028},
      {"t": 631.5, "y": 1.41, "e": 0.028}, {"t": 633, "y": 1.352, "e": 0.028}, {"t": 634, "y": 1.327, "e": 0.028}, {"t": 635.5, "y": 1.26, "e": 0.028},
      {"t": 636.5, "y": 1.227, "e": 0.028}, {"t": 638, "y": 1.202, "e": 0.028}, {"t": 638.5, "y": 1.147, "e": 0.045}, {"t": 639, "y": 1.21, "e": 0.028},
      {"t": 641.5, "y": 1.227, "e": 0.028}, {"t": 642.9, "y": 1.285, "e": 0.028}, {"t": 644.9, "y": 1.277, "e": 0.028}, {"t": 646.4, "y": 1.285, "e": 0.028},
      {"t": 647.9, "y": 1.268, "e": 0.028}, {"t": 648.9, "y": 1.26, "e": 0.028}, {"t": 651.3, "y": 1.368, "e": 0.04}, {"t": 652.8, "y": 1.277, "e": 0.028},
      {"t": 653.8, "y": 1.26, "e": 0.028}, {"t": 654.8, "y": 1.243, "e": 0.028}, {"t": 656.3, "y": 1.252, "e": 0.028}, {"t": 657.8, "y": 1.227, "e": 0.028},
      {"t": 658.8, "y": 1.243, "e": 0.028}, {"t": 661.2, "y": 1.218, "e": 0.028}, {"t": 662.7, "y": 1.193, "e": 0.028}, {"t": 663.7, "y": 1.235, "e": 0.028},
      {"t": 666.2, "y": 1.252, "e": 0.028}, {"t": 667.7, "y": 1.21, "e": 0.028}, {"t": 669.6, "y": 1.185, "e": 0.04}, {"t": 671.1, "y": 1.243, "e": 0.028},
      {"t": 672.6, "y": 1.268, "e": 0.028}, {"t": 673.6, "y": 1.36, "e": 0.04}, {"t": 675.1, "y": 1.318, "e": 0.028}, {"t": 677.6, "y": 1.318, "e": 0.028},
      {"t": 679.6, "y": 1.31, "e": 0.028}, {"t": 681, "y": 1.277, "e": 0.028}, {"t": 683.5, "y": 1.277, "e": 0.028}, {"t": 684.5, "y": 1.235, "e": 0.04},
      {"t": 686, "y": 1.31, "e": 0.028}, {"t": 687.5, "y": 1.352, "e": 0.028}, {"t": 689.4, "y": 1.335, "e": 0.028}, {"t": 690.9, "y": 1.36, "e": 0.028},
      {"t": 692.4, "y": 1.318, "e": 0.028}, {"t": 694.4, "y": 1.352, "e": 0.028}, {"t": 695.9, "y": 1.31, "e": 0.028}, {"t": 697.4, "y": 1.335, "e": 0.028},
      {"t": 698.4, "y": 1.36, "e": 0.028}, {"t": 699.4, "y": 1.31, "e": 0.028}, {"t": 700.9, "y": 1.285, "e": 0.028}, {"t": 702.4, "y": 1.26, "e": 0.028},
      {"t": 704.3, "y": 1.243, "e": 0.028}, {"t": 705.8, "y": 1.185, "e": 0.04}, {"t": 707.3, "y": 1.218, "e": 0.028}, {"t": 709.3, "y": 1.227, "e": 0.028},
      {"t": 710.8, "y": 1.243, "e": 0.028}, {"t": 711.5, "y": 1.268, "e": 0.028}, {"t": 713.2, "y": 1.26, "e": 0.028}, {"t": 714.2, "y": 1.227, "e": 0.028},
      {"t": 715.7, "y": 1.252, "e": 0.028}, {"t": 717.2, "y": 1.268, "e": 0.028}, {"t": 718.2, "y": 1.293, "e": 0.028}, {"t": 719.2, "y": 1.318, "e": 0.028},
      {"t": 720.7, "y": 1.343, "e": 0.028}, {"t": 722.2, "y": 1.368, "e": 0.028}, {"t": 723.1, "y": 1.402, "e": 0.028}, {"t": 724.1, "y": 1.427, "e": 0.028},
      {"t": 725.6, "y": 1.452, "e": 0.028}, {"t": 727.1, "y": 1.477, "e": 0.028}, {"t": 728.1, "y": 1.493, "e": 0.028}, {"t": 729.6, "y": 1.51, "e": 0.028}
    ]
  },
  "resolve": {"axis": {"x": "independent", "y": "independent"}},
  "layer": [
    {
      "data": {"name": "model"},
      "mark": {"type": "area", "color": "#d9e3ef", "opacity": 1},
      "encoding": {
        "x": {"field": "t", "type": "quantitative", "scale": {"domain": [-19.3, 746], "nice": false, "zero": false},
              "axis": {"orient": "bottom", "values": [0, 100, 200, 300, 400, 500, 600, 700], "format": "d", "labelPadding": 17, "title": "Time (d)", "titlePadding": 4}},
        "y": {"field": "lo95", "type": "quantitative", "scale": {"domain": [0.61, 1.97], "nice": false, "zero": false},
              "axis": {"orient": "left", "values": [0.75, 1.0, 1.25, 1.5, 1.75], "format": ".2f", "labelPadding": 18, "title": "Time series", "titlePadding": 9}},
        "y2": {"field": "hi95"}
      }
    },
    {
      "data": {"name": "model"},
      "mark": {"type": "area", "color": "#a6bdda", "opacity": 1},
      "encoding": {
        "x": {"field": "t", "type": "quantitative",
              "axis": {"orient": "top", "values": [0, 100, 200, 300, 400, 500, 600, 700], "labels": false, "title": null}},
        "y": {"field": "lo68", "type": "quantitative",
              "axis": {"orient": "right", "values": [0.75, 1.0, 1.25, 1.5, 1.75], "labels": false, "title": null}},
        "y2": {"field": "hi68"}
      }
    },
    {
      "data": {"name": "model"},
      "mark": {"type": "line", "color": "#4c72b0", "strokeWidth": 2},
      "encoding": {
        "x": {"field": "t", "type": "quantitative", "axis": null},
        "y": {"field": "med", "type": "quantitative", "axis": null}
      }
    },
    {
      "data": {"name": "obs"},
      "mark": {"type": "errorbar", "color": "black", "thickness": 1},
      "encoding": {
        "x": {"field": "t", "type": "quantitative", "axis": null},
        "y": {"field": "y", "type": "quantitative", "axis": null},
        "yError": {"field": "e"}
      }
    },
    {
      "data": {"name": "obs"},
      "mark": {"type": "point", "filled": true, "size": 30, "fill": "#8a8a8a", "stroke": "black", "strokeWidth": 1, "opacity": 1},
      "encoding": {
        "x": {"field": "t", "type": "quantitative", "axis": null},
        "y": {"field": "y", "type": "quantitative", "axis": null}
      }
    },
    {
      "data": {"name": "keys"},
      "mark": {"type": "point", "opacity": 0},
      "encoding": {
        "fill": {"field": "k", "type": "nominal",
          "scale": {"domain": ["Median", "68%", "95%", "Data"], "range": ["#4c72b0", "#a6bdda", "#d9e3ef", "#8a8a8a"]}},
        "stroke": {"field": "k", "type": "nominal",
          "scale": {"domain": ["Median", "68%", "95%", "Data"], "range": ["transparent", "transparent", "transparent", "black"]}},
        "shape": {"field": "k", "type": "nominal",
          "scale": {"domain": ["Median", "68%", "95%", "Data"], "range": [
            "M-2.75,-0.125H2.75V0.125H-2.75Z",
            "M-2.75,-1H2.75V1H-2.75Z",
            "M-2.75,-1H2.75V1H-2.75Z",
            "M0,-1.5V1.5M-0.375,0A0.375,0.375,0,1,1,0.375,0A0.375,0.375,0,1,1,-0.375,0Z"]}}
      }
    }
  ]
}
